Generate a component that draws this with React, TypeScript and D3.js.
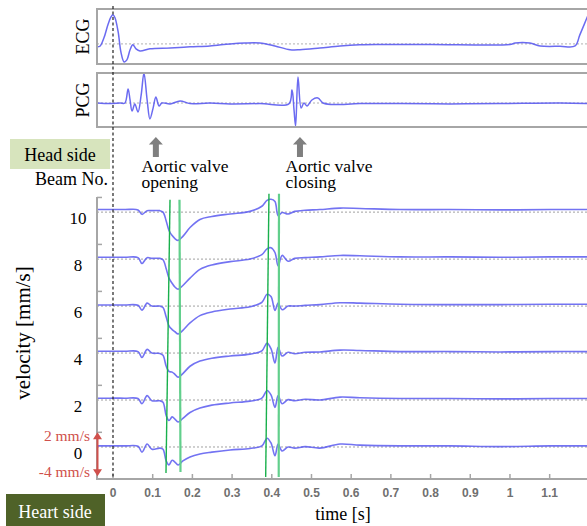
import React from "react";
import * as d3 from "d3";

// ---------- data ----------
const ecgTimes = [-0.04, -0.033, -0.023, -0.013, -0.005, 0, 0.005, 0.013, 0.02, 0.028, 0.035, 0.043, 0.05, 0.058, 0.068, 0.093, 0.144, 0.194, 0.244, 0.295, 0.332, 0.37, 0.408, 0.446, 0.471, 0.521, 0.572, 0.622, 0.673, 0.8, 1.0, 1.013, 1.05, 1.076, 1.126, 1.164, 1.176, 1.2];
const ecgValues = [-0.1, -0.08, 0.2, 0.65, 0.93, 1.0, 0.9, 0.41, -0.28, -0.62, -0.55, -0.2, -0.03, -0.17, -0.24, -0.17, -0.14, -0.1, -0.07, 0, 0.03, 0.03, -0.07, -0.2, -0.2, -0.14, -0.07, -0.03, -0.02, -0.02, -0.02, 0.03, 0.03, -0.07, -0.08, -0.07, 0.31, 1.1];

const pcgTimes = [-0.04, -0.008, 0.018, 0.03, 0.038, 0.043, 0.048, 0.055, 0.063, 0.071, 0.078, 0.086, 0.093, 0.101, 0.108, 0.116, 0.123, 0.144, 0.169, 0.194, 0.244, 0.295, 0.37, 0.443, 0.451, 0.456, 0.46, 0.466, 0.474, 0.481, 0.489, 0.501, 0.516, 0.529, 0.552, 0.622, 0.723, 0.849, 0.975, 1.126, 1.2];
const pcgValues = [0, -0.02, 0, 0, 0.47, 0.1, -0.27, -0.03, -0.3, 0.27, 1.0, 0.1, -0.53, -0.17, 0.2, -0.1, 0, -0.03, 0.07, -0.02, 0, -0.03, -0.02, -0.03, 0.43, -0.23, -0.77, 0.87, -0.17, 0, -0.1, 0.1, 0.17, 0, -0.05, -0.02, -0.02, -0.03, -0.02, 0, -0.02];

const velTimes = [-0.04, -0.008, 0.03, 0.063, 0.073, 0.086, 0.098, 0.118, 0.126, 0.134, 0.141, 0.149, 0.156, 0.164, 0.176, 0.194, 0.219, 0.249, 0.295, 0.345, 0.375, 0.388, 0.398, 0.408, 0.416, 0.426, 0.441, 0.458, 0.484, 0.521, 0.572, 0.622, 0.723, 0.849, 0.975, 1.101, 1.2];
const beam10 = [0.35, 0.35, 0.35, 0.3, -0.3, 0.2, 0.2, 0.2, 0.0, -1.2, -2.5, -3.2, -3.6, -3.85, -3.3, -2.1, -1.0, -0.6, -0.25, 0.1, 0.8, 1.6, 1.75, 1.45, -0.5, -0.05, -0.25, 0.1, 0.25, 0.35, 0.55, 0.5, 0.35, 0.35, 0.3, 0.35, 0.35];
const beam8 = [0.25, 0.25, 0.25, 0.2, -0.6, 0.2, 0.1, 0.1, -0.1, -1.3, -2.6, -3.3, -3.8, -4.1, -3.6, -2.6, -1.4, -0.8, -0.35, 0.0, 0.6, 1.4, 1.55, 0.9, -0.95, 0.5, -0.3, 0.1, 0.2, 0.3, 0.5, 0.45, 0.3, 0.3, 0.25, 0.3, 0.3];
const beam6 = [0.15, 0.15, 0.15, 0.1, -0.55, 0.4, 0.0, 0.0, -0.2, -1.5, -2.7, -3.2, -3.5, -3.8, -3.3, -2.3, -1.3, -0.8, -0.4, -0.1, 0.5, 1.6, 1.3, -0.6, 0.4, -0.5, 0.0, 0.0, 0.1, 0.2, 0.45, 0.4, 0.25, 0.2, 0.2, 0.25, 0.25];
const beam4 = [0.25, 0.25, 0.25, 0.2, -0.6, 0.5, 0.0, -0.05, -0.3, -1.8, -2.5, -2.6, -2.9, -3.3, -2.8, -1.8, -1.1, -0.7, -0.4, -0.15, 0.3, 1.35, 0.6, -1.35, 0.8, -0.4, 0.1, -0.1, 0.1, 0.15, 0.4, 0.35, 0.2, 0.2, 0.15, 0.2, 0.2];
const beam2 = [0.25, 0.25, 0.25, 0.2, -0.5, 0.6, -0.1, -0.1, -0.3, -2.1, -2.8, -2.3, -2.6, -3.0, -2.5, -1.7, -1.1, -0.7, -0.4, -0.15, 0.25, 1.3, 0.7, -1.0, 0.6, -0.5, 0.05, -0.1, 0.1, 0.0, 0.4, 0.3, 0.2, 0.2, 0.15, 0.2, 0.2];
const beam0 = [0.15, 0.15, 0.15, 0.1, -0.7, 0.4, -0.3, -0.15, -0.3, -1.9, -2.45, -1.8, -2.05, -2.45, -1.9, -1.35, -0.95, -0.7, -0.4, -0.2, 0.15, 1.2, 0.55, -1.2, 0.4, -0.55, 0.0, -0.15, 0.05, -0.15, 0.4, 0.25, 0.15, 0.15, 0.05, 0.15, 0.15];

const beamLabels = ["0", "2", "4", "6", "8", "10"];
const beamSeries = [beam0, beam2, beam4, beam6, beam8, beam10];
const beamOffset = 6.4; // mm/s between displayed traces

const xTicks = [0, 0.1, 0.2, 0.3, 0.4, 0.5, 0.6, 0.7, 0.8, 0.9, 1, 1.1];
const xTickLabels = ["0", "0.1", "0.2", "0.3", "0.4", "0.5", "0.6", "0.7", "0.8", "0.9", "1", "1.1"];

// green event lines: [tTop, tBottom, vTop, vBottom]
const eventLines = [
  [0.1436, 0.1335, 33.7, -3.55],
  [0.1675, 0.17, 33.7, -3.4],
  [0.3929, 0.3846, 34.5, -4.1],
  [0.4181, 0.4174, 34.5, -4.1],
];
const eventTimes = [0.108, 0.471];

// ---------- layout ----------
const W = 587;
const H = 526;
const serif = "'Liberation Serif', 'Times New Roman', serif";
const sans = "'Liberation Sans', Arial, sans-serif";
const traceColor = "#5b5bf0";
const gray = "#a6a6a6";

export default function App() {
  const x = d3.scaleLinear().domain([-0.0403, 1.2016]).range([97, 590]);
  const yV = d3.scaleLinear().domain([-4.36, 34.06]).range([479, 197]);
  const yE = d3.scaleLinear().domain([-0.69, 1.2]).range([64, 9]);
  const yP = d3.scaleLinear().domain([-0.8, 1.0]).range([127, 73]);

  const lineE = d3.line<number>().x((_, i) => x(ecgTimes[i])).y((v) => yE(v)).curve(d3.curveCatmullRom.alpha(0.5));
  const lineP = d3.line<number>().x((_, i) => x(pcgTimes[i])).y((v) => yP(v)).curve(d3.curveCatmullRom.alpha(0.5));

  const red = "#d0504c";
  const arrowX = 97.5;
  const aTop = yV(2);
  const aBot = yV(-4);

  return (
    <div style={{ position: "absolute", left: 0, top: 0 }}>
      <svg width={W} height={H} style={{ display: "block" }}>
        <defs>
          <clipPath id="plotclip">
            <rect x={97} y={0} width={W - 97} height={H} />
          </clipPath>
        </defs>

        {/* ECG panel */}
        <line x1={97} x2={W} y1={yE(0)} y2={yE(0)} stroke="#b0b0b0" strokeDasharray="2,2" strokeWidth={1} />
        <path d={lineE(ecgValues) || ""} fill="none" stroke={traceColor} strokeWidth={1.5} opacity={0.9} clipPath="url(#plotclip)" />
        <rect x={97} y={yE.range()[1]} width={W} height={yE.range()[0] - yE.range()[1]} fill="none" stroke={gray} strokeWidth={2} />
        <text transform={`translate(89,${(yE.range()[0] + yE.range()[1]) / 2}) rotate(-90)`} textAnchor="middle" fontFamily={serif} fontSize={18}>ECG</text>

        {/* PCG panel */}
        <line x1={97} x2={W} y1={yP(0)} y2={yP(0)} stroke="#b0b0b0" strokeDasharray="2,2" strokeWidth={1} />
        <path d={lineP(pcgValues) || ""} fill="none" stroke={traceColor} strokeWidth={1.5} opacity={0.9} clipPath="url(#plotclip)" />
        <rect x={97} y={yP.range()[1]} width={W} height={yP.range()[0] - yP.range()[1]} fill="none" stroke={gray} strokeWidth={2} />
        <text transform={`translate(89,${(yP.range()[0] + yP.range()[1]) / 2}) rotate(-90)`} textAnchor="middle" fontFamily={serif} fontSize={18}>PCG</text>

        {/* baselines */}
        {beamSeries.map((_, i) => (
          <line key={"b" + i} x1={97} x2={W} y1={yV(i * beamOffset)} y2={yV(i * beamOffset)} stroke="#a0a0a0" strokeDasharray="2,2" strokeWidth={1} />
        ))}

        {/* velocity traces */}
        {beamSeries.map((vals, i) => {
          const ln = d3
            .line<number>()
            .x((_, j) => x(velTimes[j]))
            .y((v) => yV(v + i * beamOffset))
            .curve(d3.curveCatmullRom.alpha(0.5));
          return <path key={"t" + i} d={ln(vals) || ""} fill="none" stroke={traceColor} strokeWidth={1.6} opacity={0.85} clipPath="url(#plotclip)" />;
        })}

        {/* green event lines */}
        {eventLines.map((e, i) => (
          <line key={"g" + i} x1={x(e[0])} x2={x(e[1])} y1={yV(e[2])} y2={yV(e[3])}
            stroke={i % 2 === 0 ? "#19b04c" : "#62cf8c"} strokeWidth={i % 2 === 0 ? 1.4 : 2.2} />
        ))}

        {/* axes */}
        <line x1={97} x2={97} y1={yV.range()[1]} y2={yV.range()[0]} stroke={gray} strokeWidth={2} />
        <line x1={96} x2={W} y1={yV.range()[0]} y2={yV.range()[0]} stroke={gray} strokeWidth={2} />
        {beamSeries.map((_, i) => (
          <line key={"yt" + i} x1={97} x2={102} y1={yV(i * beamOffset + 2)} y2={yV(i * beamOffset + 2)} stroke={gray} strokeWidth={1.5} />
        ))}
        {beamLabels.map((lab, i) => (
          <text key={"yl" + i} x={78} y={yV(i * beamOffset) + 12} textAnchor="middle" fontFamily={serif} fontSize={17}>{lab}</text>
        ))}
        {xTicks.map((t, i) => (
          <g key={"xt" + i}>
            <line x1={x(t)} x2={x(t)} y1={yV.range()[0]} y2={yV.range()[0] - 5} stroke={gray} strokeWidth={1.5} />
            <text x={x(t)} y={497} textAnchor="middle" fontFamily={sans} fontSize={12} fill="#707070" fontWeight="bold">{xTickLabels[i]}</text>
          </g>
        ))}
        <text x={343} y={520} textAnchor="middle" fontFamily={serif} fontSize={18}>time [s]</text>
        <text transform="translate(30,333) rotate(-90)" textAnchor="middle" fontFamily={serif} fontSize={21}>velocity [mm/s]</text>

        {/* t=0 dashed line */}
        <line x1={x(0)} x2={x(0)} y1={6} y2={yV.range()[0]} stroke="#222" strokeWidth={1.2} strokeDasharray="3,2.5" />

        {/* red scale arrow */}
        <line x1={arrowX} x2={arrowX} y1={aTop + 5} y2={aBot - 5} stroke={red} strokeWidth={2} />
        <polygon points={`${arrowX - 4.5},${aTop + 7} ${arrowX + 4.5},${aTop + 7} ${arrowX},${aTop}`} fill={red} />
        <polygon points={`${arrowX - 4.5},${aBot - 7} ${arrowX + 4.5},${aBot - 7} ${arrowX},${aBot}`} fill={red} />
        <text x={90} y={441} textAnchor="end" fontFamily={serif} fontSize={15.5} fill={red}>2 mm/s</text>
        <text x={90} y={477} textAnchor="end" fontFamily={serif} fontSize={15.5} fill={red}>-4 mm/s</text>

        {/* event arrows */}
        {eventTimes.map((t, i) => {
          const cx = x(t);
          return (
            <path key={"ea" + i} d={`M${cx},137 L${cx + 7},144.5 L${cx + 3},144.5 L${cx + 3},157 L${cx - 3},157 L${cx - 3},144.5 L${cx - 7},144.5 Z`} fill="#7f7f7f" />
          );
        })}
        <text x={141.5} y={172} fontFamily={serif} fontSize={17.5}>Aortic valve</text>
        <text x={141.5} y={188} fontFamily={serif} fontSize={17.5}>opening</text>
        <text x={285.5} y={172} fontFamily={serif} fontSize={17.5}>Aortic valve</text>
        <text x={285.5} y={188} fontFamily={serif} fontSize={17.5}>closing</text>

        {/* side boxes */}
        <rect x={10} y={139} width={100} height={30} fill="#d7e4bd" />
        <text x={60} y={161} textAnchor="middle" fontFamily={serif} fontSize={18}>Head side</text>
        <text x={108} y={185} textAnchor="end" fontFamily={serif} fontSize={18}>Beam No.</text>
        <rect x={6} y={494} width={99} height={32} fill="#4f6228" />
        <text x={55} y={518} textAnchor="middle" fontFamily={serif} fontSize={18} fill="#ffffff">Heart side</text>
      </svg>
    </div>
  );
}
